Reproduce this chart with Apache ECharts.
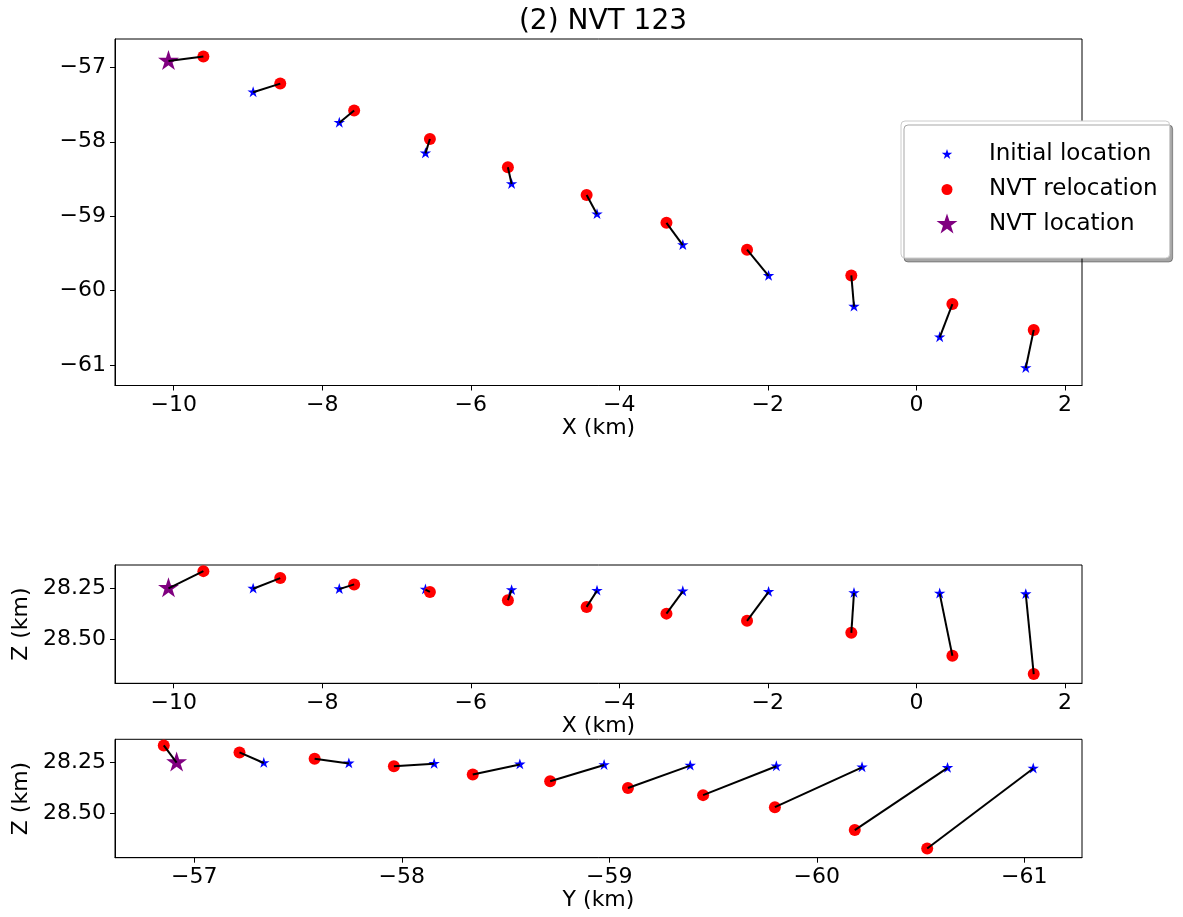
<!DOCTYPE html>
<html>
<head>
<meta charset="utf-8">
<script src="https://cdn.jsdelivr.net/npm/echarts@6/dist/echarts.min.js"></script>
<style>
  html, body { margin: 0; padding: 0; background: #fff; }
  #chart { width: 1183px; height: 917px; }
</style>
</head>
<body>
<div id="chart"></div>
<script>
// Event positions (km): initial catalogue location and NVT relocation
const initX  = [-10.07, -8.93, -7.77, -6.61, -5.45, -4.30, -3.145, -1.99, -0.84, 0.314, 1.473];
const initY  = [-56.915, -57.335, -57.745, -58.156, -58.569, -58.975, -59.39, -59.805, -60.218, -60.63, -61.043];
const initZ  = [28.252, 28.254, 28.256, 28.258, 28.261, 28.264, 28.267, 28.27, 28.275, 28.278, 28.281];
const relocX = [-9.60, -8.565, -7.57, -6.55, -5.50, -4.44, -3.365, -2.28, -0.876, 0.485, 1.58];
const relocY = [-56.853, -57.218, -57.58, -57.962, -58.342, -58.715, -59.09, -59.452, -59.798, -60.183, -60.532];
const relocZ = [28.168, 28.202, 28.233, 28.27, 28.31, 28.343, 28.376, 28.411, 28.47, 28.582, 28.672];
// NVT location [X, Y, Z]
const nvtLocation = [-10.07, -56.915, 28.252];

// Tick labels
const xTicks = [-10, -8, -6, -4, -2, 0, 2];
const yTicks = [-57, -58, -59, -60, -61];
const zTicks = [28.25, 28.5];

const seriesNames = ['Initial location', 'NVT relocation', 'NVT location'];

const FONT = 'DejaVu Sans';
const FS = 22;

// five-point star; the extra move-to points pad the bounding box so the symbol stays centred
const starPath = 'path://M0 0 M100 100 M50 0 L38.77 34.55 L2.45 34.55 L31.83 55.9 L20.61 90.45 L50 69.1 L79.39 90.45 L68.17 55.9 L97.55 34.55 L61.23 34.55 Z';
const smallStarIcon = 'path://M-50 -50 M150 150 M50 0 L38.77 34.55 L2.45 34.55 L31.83 55.9 L20.61 90.45 L50 69.1 L79.39 90.45 L68.17 55.9 L97.55 34.55 L61.23 34.55 Z';
const smallCircleIcon = 'path://M-50 -50 M150 150 M50 0 A50 50 0 1 1 50 100 A50 50 0 1 1 50 0 Z';

function minusFmt(v) {
  return v < 0 ? '\u2212' + Math.abs(v) : String(v);
}

function makeAxis(gridIndex, range, ticks, fmt, opts) {
  return Object.assign({
    type: 'value',
    gridIndex: gridIndex,
    min: range[0],
    max: range[1],
    splitLine: { show: false },
    axisLine: { show: true, onZero: false, lineStyle: { color: '#000', width: 1 } },
    axisTick: { show: true, inside: false, length: 5, customValues: ticks, lineStyle: { color: '#000', width: 1 } },
    axisLabel: { customValues: ticks, formatter: fmt, color: '#000', fontFamily: FONT, fontSize: FS, margin: 9 },
    nameTextStyle: { color: '#000', fontFamily: FONT, fontSize: FS }
  }, opts || {});
}

const xRange = [-10.79, 2.23];
const yRange = [-61.278, -56.618];
const zRange = [28.138, 28.717];
const zFmt = v => v.toFixed(2);

const grids = [
  { left: 115, top: 39, width: 967, height: 346.5 },
  { left: 115, top: 565, width: 967, height: 118.3 },
  { left: 115, top: 739.3, width: 967, height: 118.4 }
].map(g => Object.assign(g, { show: true, borderColor: '#000', borderWidth: 1, backgroundColor: 'transparent' }));

const xAxes = [
  makeAxis(0, xRange, xTicks, minusFmt, { name: 'X (km)', nameLocation: 'middle', nameGap: 31 }),
  makeAxis(1, xRange, xTicks, minusFmt, { name: 'X (km)', nameLocation: 'middle', nameGap: 32 }),
  makeAxis(2, yRange, yTicks, minusFmt, { name: 'Y (km)', nameLocation: 'middle', nameGap: 30, inverse: true })
];
const yAxes = [
  makeAxis(0, yRange, yTicks, minusFmt),
  makeAxis(1, zRange, zTicks, zFmt, { inverse: true, name: 'Z (km)', nameLocation: 'middle', nameGap: 83, nameRotate: 90 }),
  makeAxis(2, zRange, zTicks, zFmt, { inverse: true, name: 'Z (km)', nameLocation: 'middle', nameGap: 83, nameRotate: 90 })
];

// coordinate pairs for each panel: (X,Y), (X,Z), (Y,Z)
const panels = [
  { a: [initX, initY], b: [relocX, relocY], n: [nvtLocation[0], nvtLocation[1]] },
  { a: [initX, initZ], b: [relocX, relocZ], n: [nvtLocation[0], nvtLocation[2]] },
  { a: [initY, initZ], b: [relocY, relocZ], n: [nvtLocation[1], nvtLocation[2]] }
];

const series = [];
panels.forEach((p, k) => {
  const initPts = p.a[0].map((v, i) => [v, p.a[1][i]]);
  const relocPts = p.b[0].map((v, i) => [v, p.b[1][i]]);
  series.push({
    name: seriesNames[0], type: 'scatter', xAxisIndex: k, yAxisIndex: k,
    symbol: starPath, symbolSize: 12, itemStyle: { color: '#0000ff', opacity: 1 },
    data: initPts, z: 2, silent: true
  });
  series.push({
    name: seriesNames[1], type: 'scatter', xAxisIndex: k, yAxisIndex: k,
    symbol: 'circle', symbolSize: 12, itemStyle: { color: '#ff0000', opacity: 1 },
    data: relocPts, z: 3, silent: true
  });
  series.push({
    name: seriesNames[2], type: 'scatter', xAxisIndex: k, yAxisIndex: k,
    symbol: starPath, symbolSize: 22, itemStyle: { color: '#800080', opacity: 1 },
    data: [p.n], z: 4, silent: true
  });
  series.push({
    name: 'shift', type: 'lines', coordinateSystem: 'cartesian2d', xAxisIndex: k, yAxisIndex: k,
    polyline: false, silent: true, z: 5,
    lineStyle: { color: '#000', width: 2, opacity: 1, curveness: 0 },
    data: initPts.map((pt, i) => ({ coords: [pt, relocPts[i]] }))
  });
});

const chart = echarts.init(document.getElementById('chart'), null, { renderer: 'canvas' });
chart.setOption({
  animation: false,
  backgroundColor: '#fff',
  title: {
    text: '(2) NVT 123', left: 598, top: 3, textAlign: 'center',
    textStyle: { fontFamily: FONT, fontSize: 28, fontWeight: 'normal', color: '#000' }
  },
  legend: {
    orient: 'vertical', left: 901, top: 121,
    padding: [22, 12, 22, 35], itemGap: 12,
    itemWidth: 74, itemHeight: 22,
    backgroundColor: '#fff', borderColor: '#cccccc', borderWidth: 1, borderRadius: 4,
    shadowColor: 'rgba(0,0,0,0.35)', shadowBlur: 0, shadowOffsetX: 3, shadowOffsetY: 4,
    textStyle: { fontFamily: FONT, fontSize: 23, color: '#000' },
    selectedMode: false,
    data: [
      { name: seriesNames[0], icon: smallStarIcon, itemStyle: { color: '#0000ff' } },
      { name: seriesNames[1], icon: smallCircleIcon, itemStyle: { color: '#ff0000' } },
      { name: seriesNames[2], icon: starPath, itemStyle: { color: '#800080' } }
    ]
  },
  grid: grids,
  xAxis: xAxes,
  yAxis: yAxes,
  series: series
});
</script>
</body>
</html>
